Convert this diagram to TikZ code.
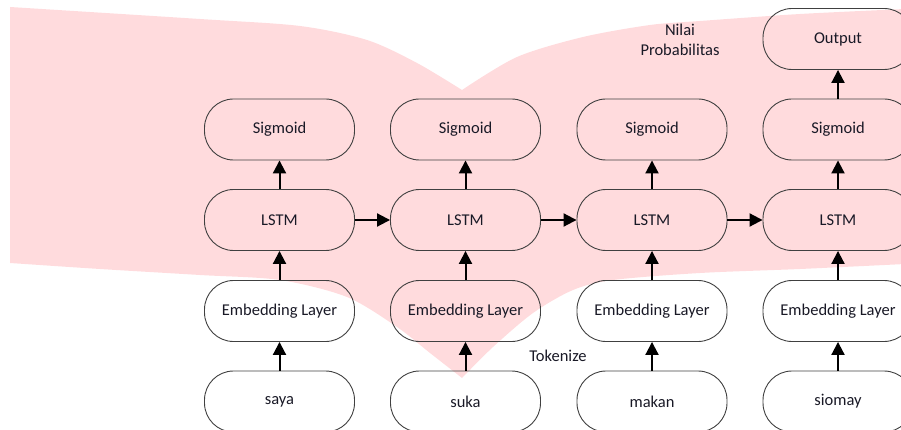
\documentclass[tikz,border=0pt]{standalone}
\usepackage{fontspec}
\setmainfont{Carlito}
\usetikzlibrary{arrows.meta}
\definecolor{pinkbg}{RGB}{255,219,221}
\definecolor{edgecol}{RGB}{64,64,64}
\definecolor{txt}{RGB}{25,25,38}
\begin{document}
\begin{tikzpicture}[x=1pt,y=-1pt,
  box/.style={draw=edgecol, line width=0.9pt, rounded corners=29pt, minimum width=150pt, minimum height=61pt, inner sep=0pt, font=\fontsize{16.5}{19}\selectfont, text=txt},
  lbl/.style={font=\fontsize{16.5}{20}\selectfont, text=txt, align=center, inner sep=0pt},
  arr/.style={line width=2pt, -{Triangle[width=13pt,length=13pt]}}]
\useasboundingbox (0,0) rectangle (901,430);
% pink background shape
\fill[pinkbg] plot[smooth, tension=0.5] coordinates {(10,7) (200,19) (300,26) (367,40) (417,63) (462,90)}
  -- plot[smooth, tension=0.5] coordinates {(462,90) (517,57) (583,37) (650,25) (700,21) (800,14) (905,9)}
  -- (905,264)
  -- plot[smooth, tension=0.5] coordinates {(905,264) (800,269) (700,273) (613,280) (573,290) (533,313) (493,347) (462,378)}
  -- plot[smooth, tension=0.5] coordinates {(462,378) (430,353) (397,327) (347,297) (280,280) (200,275) (100,269) (10,263)}
  -- cycle;
% nodes
\node[box] (out) at (838,39) {Output};
\foreach \i/\x in {1/279.5,2/465.5,3/652,4/838} {
  \node[box] (s\i) at (\x,129.5) {Sigmoid};
  \node[box] (l\i) at (\x,220) {LSTM};
  \node[box] (e\i) at (\x,311) {Embedding Layer};
}
\node[box] (w1) at (279.5,401.5) {saya};
\node[box] (w2) at (465.5,401.5) {suka};
\node[box] (w3) at (652,401.5) {makan};
\node[box] (w4) at (838,401.5) {siomay};
\node[lbl] (prob) at (680,40) {Nilai\\Probabilitas};
\node[lbl] (tok) at (558,356) {Tokenize};
% arrows
\foreach \i in {1,2,3,4} {
  \draw[arr] (w\i.north) -- (e\i.south);
  \draw[arr] (e\i.north) -- (l\i.south);
  \draw[arr] (l\i.north) -- (s\i.south);
}
\draw[arr] (s4.north) -- (out.south);
\draw[arr] (l1.east) -- (l2.west);
\draw[arr] (l2.east) -- (l3.west);
\draw[arr] (l3.east) -- (l4.west);
\end{tikzpicture}
\end{document}
